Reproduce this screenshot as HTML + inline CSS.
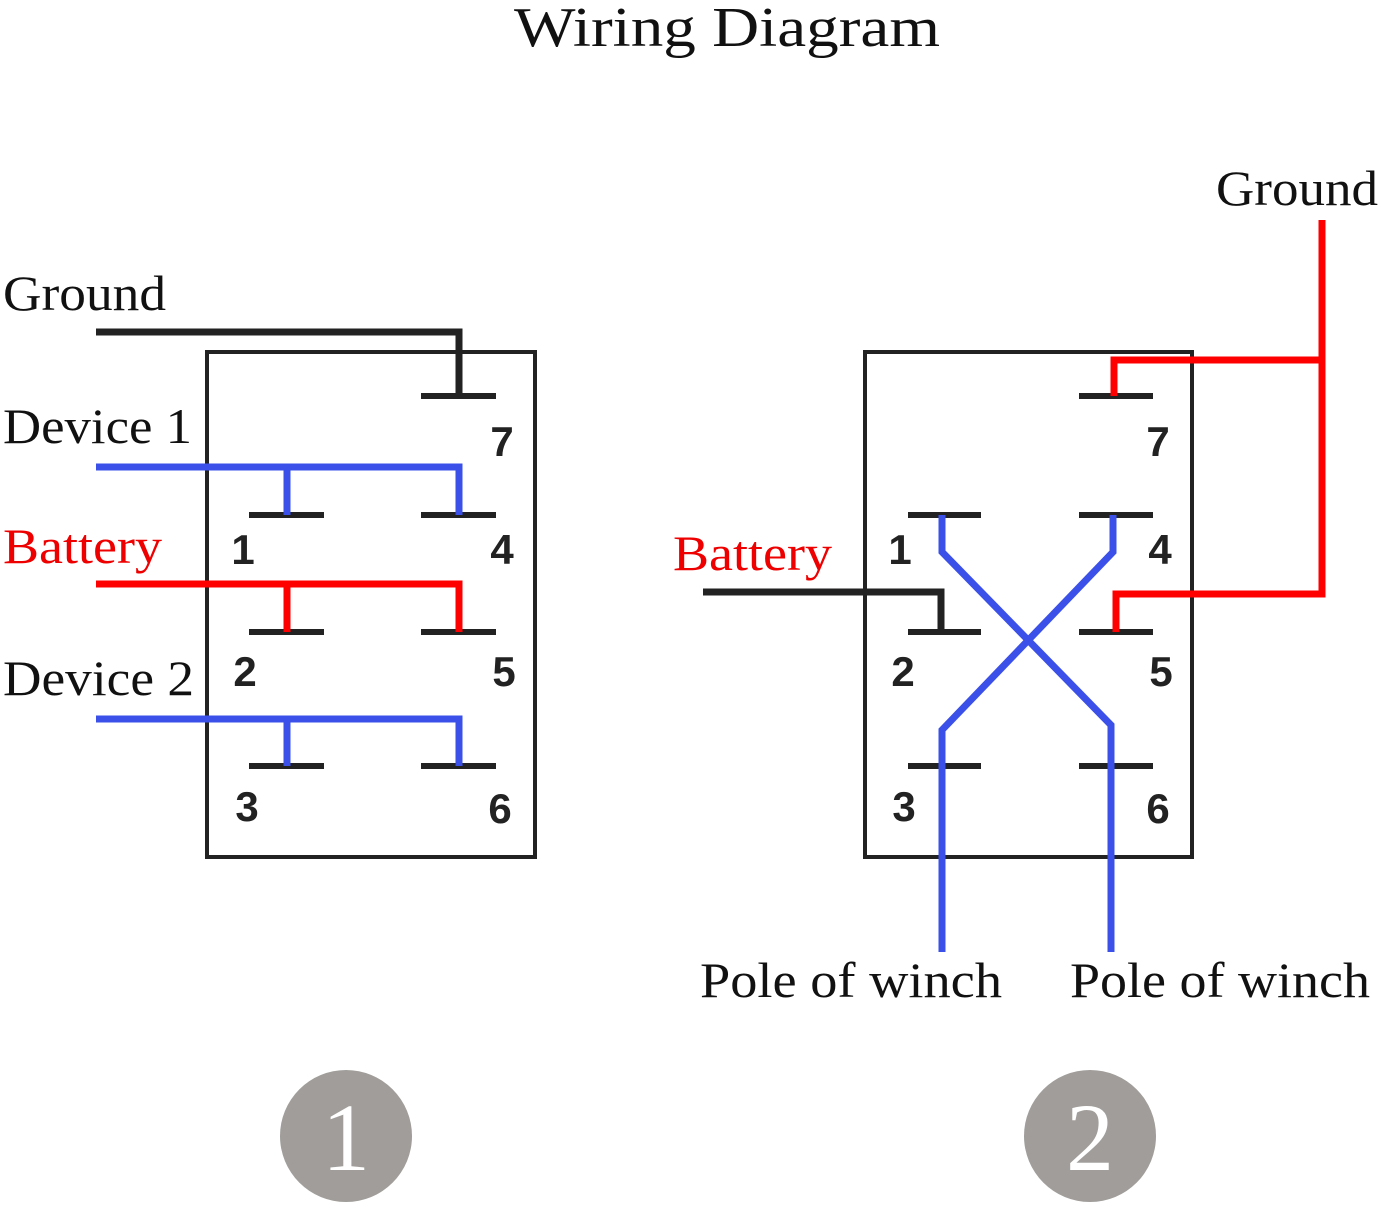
<!DOCTYPE html>
<html><head><meta charset="utf-8"><style>body{margin:0;background:#fff}</style></head><body>
<svg width="1382" height="1205" viewBox="0 0 1382 1205" xmlns="http://www.w3.org/2000/svg">
<g font-family="Liberation Serif, serif" lengthAdjust="spacingAndGlyphs">
<text x="514" y="46" font-size="56" fill="#111" textLength="426" lengthAdjust="spacingAndGlyphs">Wiring Diagram</text>
<text x="3" y="310" font-size="50" fill="#111" textLength="163" lengthAdjust="spacingAndGlyphs">Ground</text>
<text x="3" y="443" font-size="50" fill="#111" textLength="189" lengthAdjust="spacingAndGlyphs">Device 1</text>
<text x="3" y="563" font-size="50" fill="#e00" textLength="159" lengthAdjust="spacingAndGlyphs">Battery</text>
<text x="3" y="695" font-size="50" fill="#111" textLength="191" lengthAdjust="spacingAndGlyphs">Device 2</text>
<text x="1216" y="205" font-size="50" fill="#111" textLength="162" lengthAdjust="spacingAndGlyphs">Ground</text>
<text x="673" y="570" font-size="50" fill="#e00" textLength="159" lengthAdjust="spacingAndGlyphs">Battery</text>
<text x="700" y="997" font-size="50" fill="#111" textLength="302" lengthAdjust="spacingAndGlyphs">Pole of winch</text>
<text x="1070" y="997" font-size="50" fill="#111" textLength="300" lengthAdjust="spacingAndGlyphs">Pole of winch</text>
</g>
<g fill="none" stroke="#222" stroke-width="4">
<rect x="207" y="352" width="328" height="505"/>
<rect x="865" y="352" width="327" height="505"/>
</g>
<g stroke="#222" stroke-width="6">
<line x1="421" y1="396" x2="496" y2="396"/><line x1="249" y1="515" x2="324" y2="515"/><line x1="421" y1="515" x2="496" y2="515"/>
<line x1="249" y1="632" x2="324" y2="632"/><line x1="421" y1="632" x2="496" y2="632"/><line x1="249" y1="766" x2="324" y2="766"/><line x1="421" y1="766" x2="496" y2="766"/>
<line x1="1079" y1="396" x2="1153" y2="396"/><line x1="908" y1="515" x2="981" y2="515"/><line x1="1079" y1="515" x2="1153" y2="515"/>
<line x1="908" y1="632" x2="981" y2="632"/><line x1="1079" y1="632" x2="1153" y2="632"/><line x1="908" y1="766" x2="981" y2="766"/><line x1="1079" y1="766" x2="1153" y2="766"/>
</g>
<g font-family="Liberation Sans, sans-serif" font-weight="bold" font-size="42" fill="#222" text-anchor="middle">
<text x="502" y="456">7</text><text x="243" y="564">1</text><text x="502" y="564">4</text><text x="245" y="686">2</text><text x="504" y="686">5</text><text x="247" y="821">3</text><text x="500" y="823">6</text>
<text x="1158" y="456">7</text><text x="900" y="564">1</text><text x="1160" y="564">4</text><text x="903" y="686">2</text><text x="1161" y="686">5</text><text x="904" y="821">3</text><text x="1158" y="823">6</text>
</g>
<g fill="none" stroke-width="7">
<polyline stroke="#222" points="96,332 459,332 459,396"/>
<polyline stroke="#3a50e8" points="96,467 459,467 459,515"/><line stroke="#3a50e8" x1="287" y1="467" x2="287" y2="515"/>
<polyline stroke="#f00" points="96,584 459,584 459,632"/><line stroke="#f00" x1="287" y1="584" x2="287" y2="632"/>
<polyline stroke="#3a50e8" points="96,719 459,719 459,766"/><line stroke="#3a50e8" x1="287" y1="719" x2="287" y2="766"/>
<polyline stroke="#f00" points="1322,220 1322,594 1116,594 1116,632"/>
<polyline stroke="#f00" points="1322,360 1114,360 1114,396"/>
<polyline stroke="#222" points="703,592 941,592 941,632"/>
<polyline stroke="#3a50e8" points="942,515 942,552 1111,725 1111,952"/>
<polyline stroke="#3a50e8" points="1113,515 1113,552 942,730 942,952"/>
</g>
<circle cx="346" cy="1136" r="66" fill="#a09d9a"/>
<circle cx="1090" cy="1136" r="66" fill="#a09d9a"/>
<g font-family="Liberation Serif, serif" font-size="96" fill="#fff" text-anchor="middle">
<text x="346" y="1170">1</text><text x="1090" y="1170">2</text>
</g>
</svg>
</body></html>
